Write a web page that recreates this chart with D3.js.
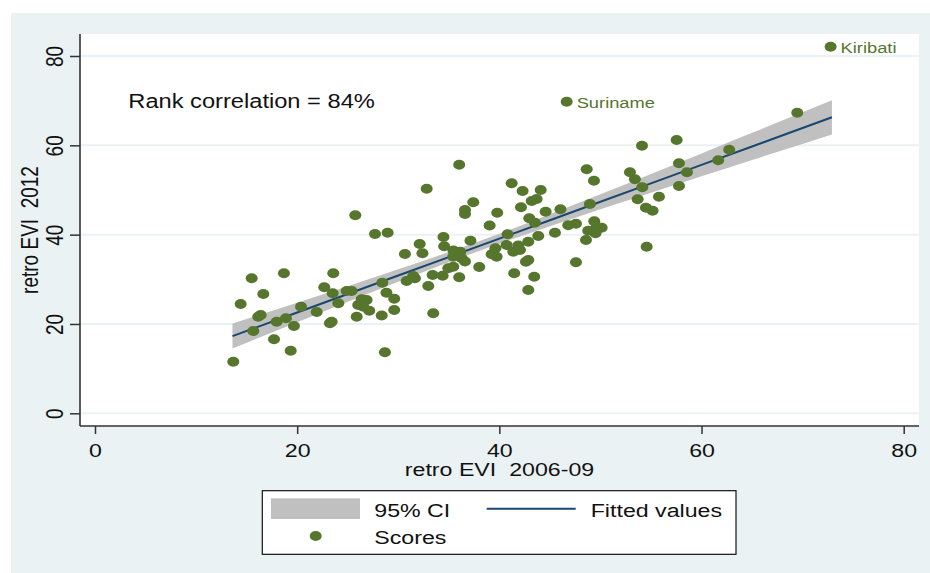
<!DOCTYPE html>
<html>
<head>
<meta charset="utf-8">
<script src="https://cdn.jsdelivr.net/npm/d3@7"></script>
<style>
  body { margin: 0; background: #ffffff; }
  svg text { font-family: "Liberation Sans", Arial, sans-serif; }
</style>
</head>
<body>
<div id="chart"></div>
<script>
//----------------------------------------------------------------
// data
var xTicks = [0, 20, 40, 60, 80];
var yTicks = [0, 20, 40, 60, 80];

var scoresX = [13.68, 14.41, 15.50, 15.66, 16.15, 16.39, 16.65, 17.71, 17.97, 18.89,
  18.69, 19.36, 19.68, 20.38, 21.93, 22.68, 23.51, 23.24, 23.41, 23.57,
  24.07, 24.90, 25.39, 25.75, 25.89, 26.38, 26.87, 26.04, 26.54, 27.13,
  27.70, 28.95, 28.36, 28.42, 28.68, 28.83, 29.60, 29.60, 30.66, 30.83,
  31.48, 31.65, 32.12, 32.39, 32.81, 32.97, 33.40, 33.46, 34.39, 34.47,
  34.54, 34.95, 35.44, 35.46, 36.13, 35.44, 36.27, 36.60, 36.03, 36.03,
  36.60, 36.60, 37.42, 37.14, 38.01, 39.04, 39.24, 39.61, 39.73, 39.79,
  40.72, 40.82, 41.22, 41.38, 41.47, 41.87, 42.04, 42.14, 42.30, 42.63,
  42.86, 42.86, 42.86, 42.96, 43.45, 43.52, 43.69, 43.20, 43.85, 44.09,
  44.58, 45.50, 46.04, 46.82, 47.58, 47.58, 48.57, 48.64, 48.96, 49.39,
  49.62, 50.12, 48.79, 49.51, 49.36, 52.92, 53.41, 54.11, 54.14, 53.68,
  54.50, 55.16, 54.57, 55.79, 57.54, 57.77, 58.56, 57.77, 61.65, 62.74,
  69.47];
var scoresY = [11.55, 24.47, 30.23, 18.43, 21.63, 22.01, 26.71, 16.57, 20.51, 21.27,
  31.35, 14.02, 19.55, 23.87, 22.68, 28.21, 26.87, 20.15, 20.51, 31.35,
  24.63, 27.38, 27.38, 44.34, 21.63, 25.53, 25.37, 24.25, 23.87, 22.97,
  40.15, 40.44, 21.90, 29.24, 13.66, 27.00, 25.66, 23.13, 35.67, 29.62,
  30.74, 30.23, 37.91, 35.83, 50.29, 28.50, 30.97, 22.39, 30.81, 39.48,
  37.39, 32.47, 32.83, 36.45, 36.18, 35.07, 34.71, 33.99, 55.67, 30.45,
  45.52, 44.63, 47.25, 38.65, 32.76, 42.05, 35.60, 36.95, 35.07, 44.92,
  37.68, 40.10, 51.50, 36.18, 31.35, 37.57, 36.57, 46.13, 49.78, 33.95,
  34.33, 27.61, 38.42, 43.66, 30.59, 42.68, 47.99, 47.54, 39.70, 50.00,
  45.14, 40.42, 45.70, 42.10, 42.45, 33.81, 38.80, 54.64, 46.87, 43.01,
  41.78, 41.56, 40.89, 40.30, 52.08, 53.96, 52.40, 59.92, 50.60, 47.92,
  46.04, 45.37, 37.30, 48.50, 61.20, 55.98, 53.99, 50.90, 56.65, 59.02,
  67.31];

// labelled countries
var namedLabels = ["Suriname", "Kiribati"];
var namedX = [46.66, 72.77];
var namedY = [69.77, 82.09];

// fitted line and 95% confidence band
var ciX    = [13.6, 20, 25, 30, 35, 40, 45, 50, 55, 60, 65, 72.9];
var fitY   = [17.29, 22.58, 26.71, 30.84, 34.97, 39.10, 43.23, 47.36, 51.49, 55.62, 59.75, 66.28];
var ciLow  = [14.49, 20.38, 24.95, 29.45, 33.83, 37.98, 41.90, 45.68, 49.39, 53.05, 56.70, 62.44];
var ciHigh = [20.09, 24.78, 28.47, 32.23, 36.11, 40.22, 44.56, 49.04, 53.59, 58.19, 62.80, 70.12];

var corrText = "Rank correlation = 84%";
var xTitle = "retro EVI  2006-09";
var yTitle = "retro EVI  2012";
var legendCI = "95% CI", legendFit = "Fitted values", legendScores = "Scores";

//----------------------------------------------------------------
// svg and scales
var largeur = 930, hauteur = 573;
var sx = 1.22; // the picture is stretched horizontally
var green = "#56762e", navy = "#1a476f", bandGrey = "#c0c0c0", bg = "#eaf2f3", axisCol = "#333333";

var svg = d3.select("#chart")
  .append("svg")
  .attr("width", largeur)
  .attr("height", hauteur);

var plotL = 80, plotR = 919, plotT = 34, plotB = 426;

var x = d3.scaleLinear().domain([0, 80]).range([95, 903.7]);
var y = d3.scaleLinear().domain([0, 80]).range([413.3, 56]);

// backgrounds
svg.append("rect")
  .attr("x", 11).attr("y", 13)
  .attr("width", largeur - 11).attr("height", hauteur - 13)
  .attr("fill", bg);
svg.append("rect")
  .attr("x", plotL).attr("y", plotT)
  .attr("width", plotR - plotL).attr("height", plotB - plotT)
  .attr("fill", "#ffffff");

// gridlines
svg.selectAll(".grid")
  .data(yTicks)
  .enter()
  .append("line")
  .attr("class", "grid")
  .attr("x1", plotL).attr("x2", plotR)
  .attr("y1", function(d){ return y(d); })
  .attr("y2", function(d){ return y(d); })
  .attr("stroke", bg)
  .attr("stroke-width", 2);

//----------------------------------------------------------------
// confidence band + fitted line
var band = d3.area()
  .x(function(d, i){ return x(ciX[i]); })
  .y0(function(d, i){ return y(ciLow[i]); })
  .y1(function(d, i){ return y(ciHigh[i]); })
  .curve(d3.curveMonotoneX);
svg.append("path")
  .datum(ciX)
  .attr("d", band)
  .attr("fill", bandGrey);

var fitLine = d3.line()
  .x(function(d, i){ return x(ciX[i]); })
  .y(function(d, i){ return y(fitY[i]); });
svg.append("path")
  .datum(ciX)
  .attr("d", fitLine)
  .attr("fill", "none")
  .attr("stroke", navy)
  .attr("stroke-width", 2);

//----------------------------------------------------------------
// scores
svg.selectAll(".score")
  .data(scoresX)
  .enter()
  .append("ellipse")
  .attr("class", "score")
  .attr("cx", function(d){ return x(d); })
  .attr("cy", function(d, i){ return y(scoresY[i]); })
  .attr("rx", 6).attr("ry", 5)
  .attr("fill", green);

var named = svg.selectAll(".named")
  .data(namedLabels)
  .enter();
named.append("ellipse")
  .attr("cx", function(d, i){ return x(namedX[i]); })
  .attr("cy", function(d, i){ return y(namedY[i]); })
  .attr("rx", 6).attr("ry", 5)
  .attr("fill", green);
named.append("text")
  .text(function(d){ return d; })
  .attr("font-size", "15px")
  .attr("fill", green)
  .attr("transform", function(d, i){
    return "translate(" + (x(namedX[i]) + 10) + "," + (y(namedY[i]) + 6.3) + ") scale(" + sx + ",1)";
  });

//----------------------------------------------------------------
// axes
var gX = svg.append("g")
  .attr("transform", "translate(0," + plotB + ")")
  .call(d3.axisBottom(x).tickValues(xTicks).tickSize(8));
gX.select(".domain").remove();
gX.selectAll("line").attr("stroke", axisCol).attr("stroke-width", 1.5);
gX.selectAll("text")
  .attr("y", 0).attr("dy", null)
  .attr("font-size", "19px")
  .attr("font-family", "Liberation Sans, Arial, sans-serif")
  .attr("fill", "#111")
  .attr("transform", "translate(0,31) scale(" + sx + ",1)");

var gY = svg.append("g")
  .attr("transform", "translate(" + plotL + ",0)")
  .call(d3.axisLeft(y).tickValues(yTicks).tickSize(10));
gY.select(".domain").remove();
gY.selectAll("line").attr("stroke", axisCol).attr("stroke-width", 1.5);
gY.selectAll("text")
  .attr("x", 0).attr("dy", null)
  .attr("text-anchor", "middle")
  .attr("font-size", "19px")
  .attr("font-family", "Liberation Sans, Arial, sans-serif")
  .attr("fill", "#111")
  .attr("transform", "translate(-17,0) rotate(-90) scale(1," + sx + ")");

// axis lines
svg.append("line")
  .attr("x1", plotL).attr("x2", plotL)
  .attr("y1", plotT).attr("y2", plotB)
  .attr("stroke", axisCol).attr("stroke-width", 1.6);
svg.append("line")
  .attr("x1", plotL).attr("x2", plotR)
  .attr("y1", plotB).attr("y2", plotB)
  .attr("stroke", axisCol).attr("stroke-width", 1.6);

// titles
svg.append("text")
  .text(xTitle)
  .style("white-space", "pre")
  .attr("text-anchor", "middle")
  .attr("font-size", "19px")
  .attr("fill", "#111")
  .attr("transform", "translate(" + ((plotL + plotR) / 2) + ",476) scale(" + sx + ",1)");
svg.append("text")
  .text(yTitle)
  .style("white-space", "pre")
  .attr("text-anchor", "middle")
  .attr("font-size", "19px")
  .attr("fill", "#111")
  .attr("transform", "translate(38," + ((plotT + plotB) / 2) + ") rotate(-90) scale(1," + sx + ")");

svg.append("text")
  .text(corrText)
  .attr("font-size", "19.4px")
  .attr("fill", "#111")
  .attr("transform", "translate(128.3,108) scale(" + sx + ",1)");

//----------------------------------------------------------------
// legend
var leg = svg.append("g");
leg.append("rect")
  .attr("x", 262.3).attr("y", 490.7)
  .attr("width", 473.7).attr("height", 63.6)
  .attr("fill", "#ffffff")
  .attr("stroke", "#111").attr("stroke-width", 1.2);
leg.append("rect")
  .attr("x", 271).attr("y", 498.3)
  .attr("width", 89).attr("height", 20.7)
  .attr("fill", bandGrey);
leg.append("line")
  .attr("x1", 486.7).attr("x2", 575.7)
  .attr("y1", 508.7).attr("y2", 508.7)
  .attr("stroke", navy).attr("stroke-width", 2);
leg.append("ellipse")
  .attr("cx", 315.7).attr("cy", 536)
  .attr("rx", 6).attr("ry", 5)
  .attr("fill", green);

var legTexts = [[legendCI, 374.3, 516.7], [legendFit, 590.7, 517.3], [legendScores, 374.3, 544]];
leg.selectAll(".legtext")
  .data(legTexts)
  .enter()
  .append("text")
  .attr("class", "legtext")
  .text(function(d){ return d[0]; })
  .attr("font-size", "19px")
  .attr("fill", "#111")
  .attr("transform", function(d){ return "translate(" + d[1] + "," + d[2] + ") scale(" + sx + ",1)"; });
</script>
</body>
</html>
